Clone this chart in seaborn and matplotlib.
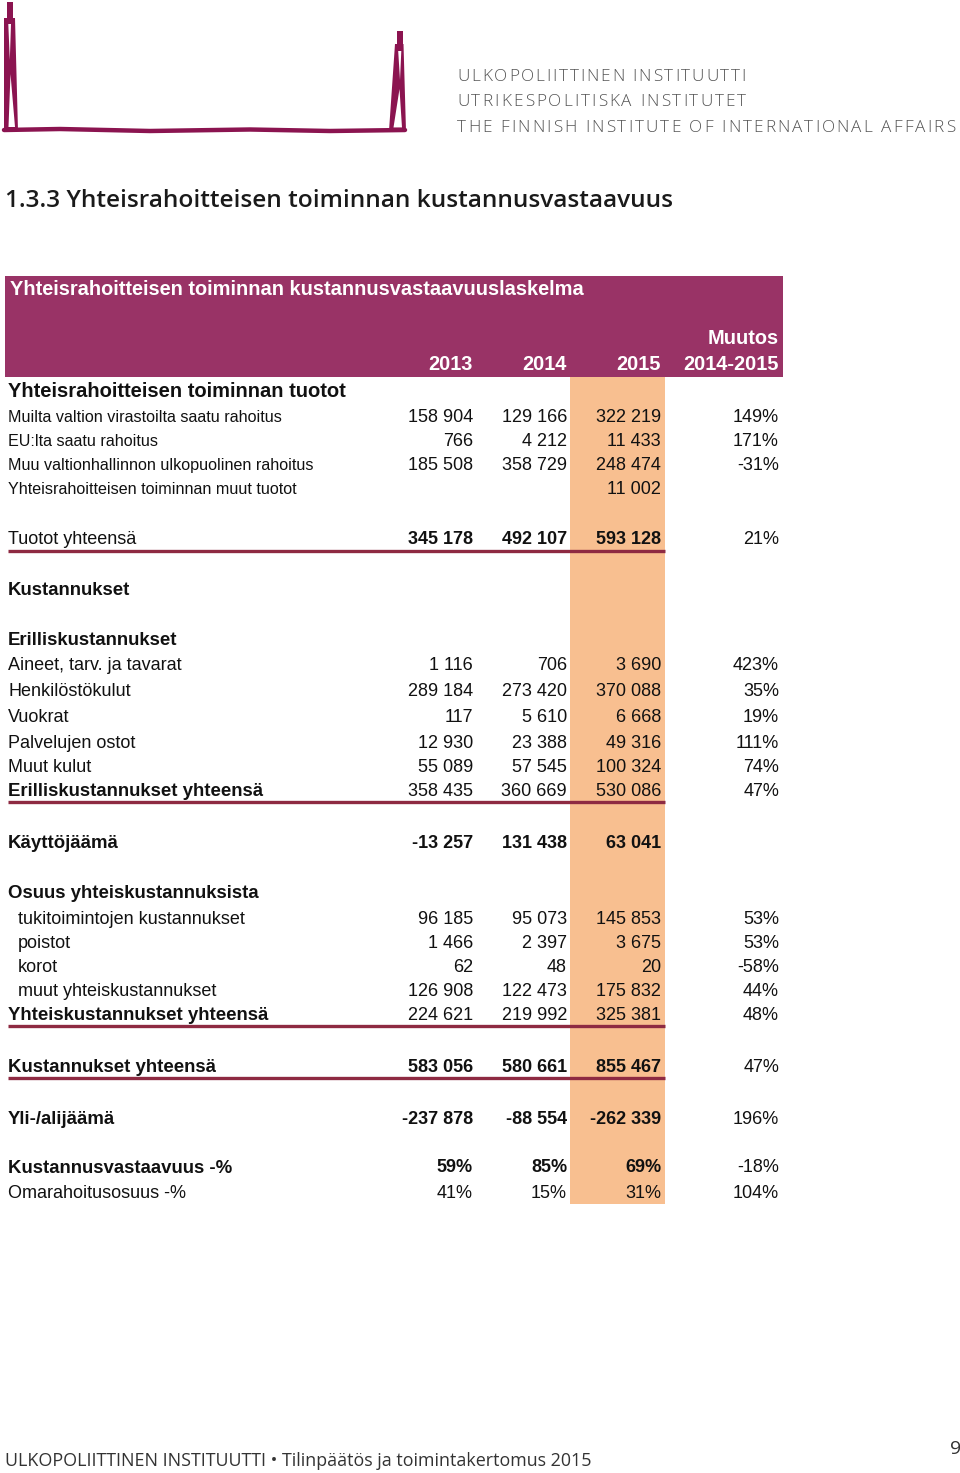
import matplotlib.pyplot as plt
import seaborn as sns

# table content
labels = [
    "Yhteisrahoitteisen toiminnan tuotot",
    "Muilta valtion virastoilta saatu rahoitus",
    "EU:lta saatu rahoitus",
    "Muu valtionhallinnon ulkopuolinen rahoitus",
    "Yhteisrahoitteisen toiminnan muut tuotot",
    "Tuotot yhteensä",
    "Kustannukset",
    "Erilliskustannukset",
    "Aineet, tarv. ja tavarat",
    "Henkilöstökulut",
    "Vuokrat",
    "Palvelujen ostot",
    "Muut kulut",
    "Erilliskustannukset yhteensä",
    "Käyttöjäämä",
    "Osuus yhteiskustannuksista",
    "tukitoimintojen kustannukset",
    "poistot",
    "korot",
    "muut yhteiskustannukset",
    "Yhteiskustannukset yhteensä",
    "Kustannukset yhteensä",
    "Yli-/alijäämä",
]
v2013 = [None, 158904, 766, 185508, None, 345178, None, None, 1116, 289184, 117, 12930,
         55089, 358435, -13257, None, 96185, 1466, 62, 126908, 224621, 583056, -237878]
v2014 = [None, 129166, 4212, 358729, None, 492107, None, None, 706, 273420, 5610, 23388,
         57545, 360669, 131438, None, 95073, 2397, 48, 122473, 219992, 580661, -88554]
v2015 = [None, 322219, 11433, 248474, 11002, 593128, None, None, 3690, 370088, 6668, 49316,
         100324, 530086, 63041, None, 145853, 3675, 20, 175832, 325381, 855467, -262339]
change_pct = [None, 149, 171, -31, None, 21, None, None, 423, 35, 19, 111,
              74, 47, None, None, 53, 53, -58, 44, 48, 47, 196]

ratio_labels = ["Kustannusvastaavuus -%", "Omarahoitusosuus -%"]
ratio_2013 = [59, 41]
ratio_2014 = [85, 15]
ratio_2015 = [69, 31]
ratio_change = [-18, 104]

years = ["2013", "2014", "2015"]
change_head = ["Muutos", "2014-2015"]

# layout (pixels on the page)
row_y = [390, 416, 440, 464, 488, 538, 588, 638, 663, 690, 716, 741, 765, 789,
         841, 891, 917, 941, 965, 989, 1013, 1065, 1117]
ratio_y = [1166, 1192]
col_x = [473, 567, 661, 779]
small_rows = {1, 2, 3, 4}
indent_rows = {16, 17, 18, 19}
bold_label_rows = {0, 6, 7, 13, 14, 15, 20, 21, 22}
bold_num_rows = {5, 14, 21, 22}
underline_rows = {5, 13, 20, 21}

MAROON = "#993366"
LOGO = "#8b1450"
LINE = "#8e2a42"
PEACH = "#f8bf90"
TEXT = "#111111"
W, H = 960, 1473


def fmt_num(v):
    return f"{v:,}".replace(",", " ")


def put(ax, x, yc, s, size, bold=False, ha="left", color=TEXT, family=None, weight=None):
    # yc is the visual centre of capitals; convert to baseline
    base = yc + 0.36 * size * 100 / 72
    kw = {}
    if family is not None:
        kw["family"] = family
    if weight is None:
        weight = "bold" if bold else "normal"
    return ax.text(x, base, s, fontsize=size, fontweight=weight,
                   ha=ha, va="baseline", color=color, **kw)


def spaced_text(ax, fig, x0, x1, base, s, size, **kw):
    # letters placed one by one so the line spans x0..x1 (tracked caps)
    renderer = fig.canvas.get_renderer()
    arts, widths = [], []
    for ch in s:
        t = ax.text(0, base, ch if ch != " " else "I", fontsize=size, va="baseline", **kw)
        w = t.get_window_extent(renderer).width
        if ch == " ":
            t.set_text("")
        arts.append(t)
        widths.append(w)
    track = (x1 - x0 - sum(widths)) / (len(s) - 1)
    x = x0
    for t, w in zip(arts, widths):
        t.set_x(x)
        x += w + track


sns.set_theme(style="white")
plt.rcParams["font.family"] = ["Liberation Sans", "DejaVu Sans"]

fig = plt.figure(figsize=(W / 100, H / 100), dpi=100)
ax = fig.add_axes([0, 0, 1, 1])
ax.set_xlim(0, W)
ax.set_ylim(H, 0)
ax.axis("off")

# logo drawing: two thin figures joined by a ground line
ax.fill([7, 13, 13, 7], [2, 2, 20, 20], color=LOGO, lw=0)
ax.fill([4, 15, 18, 4], [18, 18, 131, 131], color=LOGO, lw=0)
ax.fill([8.3, 11, 9.8], [24, 24, 60], color="white", lw=0)
ax.fill([10.5, 8.5, 15], [74, 127, 127], color="white", lw=0)
ax.fill([397, 403, 403, 397], [31, 31, 46, 46], color=LOGO, lw=0)
ax.fill([395, 403.5, 406, 389], [44, 44, 131, 131], color=LOGO, lw=0)
ax.fill([398.2, 401.3, 400], [51, 51, 80], color="white", lw=0)
ax.fill([399.5, 393.5, 402], [89, 127.5, 127.5], color="white", lw=0)
ax.plot([4, 60, 150, 250, 330, 405], [130, 129, 131, 129.5, 131, 130], color=LOGO, lw=3.2)

logo_lines = ["ULKOPOLIITTINEN INSTITUUTTI", "UTRIKESPOLITISKA INSTITUTET",
              "THE FINNISH INSTITUTE OF INTERNATIONAL AFFAIRS"]
logo_right = [746, 746, 955]
for i, line in enumerate(logo_lines):
    spaced_text(ax, fig, 457, logo_right[i], 81 + i * 25.5, line, 12.3,
                family="Open Sans", fontweight="light", color="#555555")

# page title
put(ax, 5, 198, "1.3.3 Yhteisrahoitteisen toiminnan kustannusvastaavuus", 17.6,
    color="#1a1a1a", family="Open Sans", weight=600)

# header band and highlighted 2015 column
ax.fill_between([5, 783], 276, 377, color=MAROON, lw=0)
ax.fill_between([570, 665], 377, 1204, color=PEACH, lw=0)

put(ax, 10, 288, "Yhteisrahoitteisen toiminnan kustannusvastaavuuslaskelma", 14.4, bold=True, color="white")
for x, yr in zip(col_x[:3], years):
    put(ax, x, 363, yr, 14.4, bold=True, ha="right", color="white")
put(ax, col_x[3], 337, change_head[0], 14.4, bold=True, ha="right", color="white")
put(ax, col_x[3], 363, change_head[1], 14.4, bold=True, ha="right", color="white")

# main rows
for i, lab in enumerate(labels):
    y = row_y[i]
    x0 = 18 if i in indent_rows else 8
    if i == 0:
        size = 14.5
    elif i in small_rows:
        size = 11.6
    elif i in bold_label_rows:
        size = 13.4
    else:
        size = 13
    put(ax, x0, y, lab, size, bold=i in bold_label_rows)
    nb = i in bold_num_rows
    for x, vals in zip(col_x[:3], (v2013, v2014, v2015)):
        if vals[i] is not None:
            put(ax, x, y, fmt_num(vals[i]), 13, bold=nb, ha="right")
    if change_pct[i] is not None:
        put(ax, col_x[3], y, f"{change_pct[i]}%", 13, ha="right")
    if i in underline_rows:
        yl = y + 13
        ax.plot([8, 665], [yl, yl], color=LINE, lw=2.4, solid_capstyle="butt")

# ratio rows
for j, lab in enumerate(ratio_labels):
    y = ratio_y[j]
    b = j == 0
    put(ax, 8, y, lab, 13.4 if b else 13, bold=b)
    for x, vals in zip(col_x[:3], (ratio_2013, ratio_2014, ratio_2015)):
        put(ax, x, y, f"{vals[j]}%", 13, bold=b, ha="right")
    put(ax, col_x[3], y, f"{ratio_change[j]}%", 13, ha="right")

# footer
put(ax, 5, 1460, "ULKOPOLIITTINEN INSTITUUTTI \u2022 Tilinpäätös ja toimintakertomus 2015", 12.85,
    color="#333333", family="Open Sans")
put(ax, 961, 1447, "9", 14, ha="right", color="#333333", family="Open Sans")

fig.savefig("out.png", dpi=100)
